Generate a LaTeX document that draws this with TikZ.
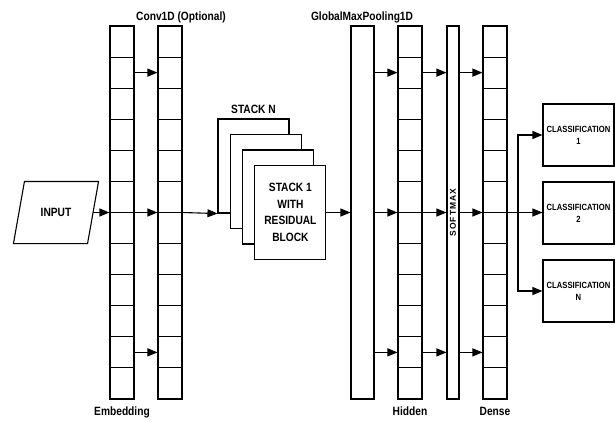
\documentclass[tikz,border=0pt]{standalone}
\usepackage{fontspec}
\setmainfont{Liberation Sans}[FakeStretch=0.85]
\newfontfamily\smaxfont{Liberation Sans}[LetterSpace=12]
\usetikzlibrary{arrows.meta,positioning}

% one column of 12 cells: name, x centre
\newcommand\cellcol[2]{%
  \node[colbox] (#1) at (#2,212.5) {};
  \foreach \i in {1,...,12}
    \node[cell] (#1\i) at (#2,{26+31.083*(\i-0.5)}) {};
}

\begin{document}
\begin{tikzpicture}[x=1pt,y=-1pt,line width=1.1pt,>={Triangle[length=10pt,width=8pt]},
  font=\bfseries\fontsize{12}{14}\selectfont,
  cell/.style={draw,inner sep=0pt,minimum width=24pt,minimum height=31.083pt},
  colbox/.style={draw,inner sep=0pt,minimum width=24pt,minimum height=373pt},
  stk/.style={draw,fill=white,inner sep=1pt,minimum width=71pt,minimum height=94pt,
    align=center,font=\bfseries\fontsize{12}{16.5}\selectfont},
  cls/.style={draw,inner sep=1pt,minimum width=71pt,minimum height=62pt,
    align=center,font=\bfseries\fontsize{9}{12}\selectfont},
  lbl/.style={inner sep=0pt}]
  \useasboundingbox (0,0) rectangle (615,421);
  % input
  \node[inner sep=0pt,minimum width=84pt,minimum height=61pt] (input) at (56,212.5) {INPUT};
  \draw (input.south west)--([xshift=-11pt]input.south east)--(input.north east)
    --([xshift=11pt]input.north west)--cycle;
  % columns
  \cellcol{emb}{122}
  \cellcol{conv}{170}
  \node[colbox,minimum width=23pt] (gmp) at (362.5,212.5) {};
  \cellcol{hid}{410}
  \node[colbox,minimum width=12pt] (smax) at (453,212.5) {};
  \node[rotate=90,inner sep=0pt,font=\smaxfont\bfseries\fontsize{8.5}{10}\selectfont] (smaxlbl) at (smax) {SOFTMAX};
  \cellcol{dns}{495}
  % stacks
  \node[stk] (sN) at (253.5,166) {};
  \node[stk] (s3) at ([shift={(12.3,15.5)}]sN) {};
  \node[stk] (s2) at ([shift={(12.3,15.5)}]s3) {};
  \node[stk] (s1) at ([shift={(12.3,15.5)}]s2) {STACK 1\\WITH\\RESIDUAL\\BLOCK};
  \node[lbl,above=4pt of sN] (stklbl) {STACK N};
  % outputs
  \node[cls] (c1) at (578.5,135) {CLASSIFICATION\\1};
  \node[cls] (c2) at (578.5,213) {CLASSIFICATION\\2};
  \node[cls] (cN) at (578.5,291) {CLASSIFICATION\\N};
  \coordinate (fork) at (518,212.5);
  % labels
  \node[lbl] (convlbl) at (181,17) {Conv1D (Optional)};
  \node[lbl] (gmplbl) at (362,17) {GlobalMaxPooling1D};
  \node[lbl,below=7pt of emb] (emblbl) {Embedding};
  \node[lbl,below=7pt of hid] (hidlbl) {Hidden};
  \node[lbl,below=7pt of dns] (dnslbl) {Dense};
  % arrows
  \draw[->]([xshift=-5.5pt]input.east)--(emb.west);\draw[->](emb.west)--(conv.west);
  \draw[->](conv.east)--(sN.south west);\draw[->](s1.east)--(gmp.west);
  \draw[->](gmp.east)--(hid.west);\draw[->](hid.east)--(smax.west);
  \draw[->](smax.east)--(dns.west);
  \foreach \r in {2,11}{
    \draw[->](emb\r.east)--(conv\r.west);
    \draw[->](gmp.east |- hid\r)--(hid\r.west);
    \draw[->](hid\r.east)--(smax.west |- hid\r);
    \draw[->](smax.east |- dns\r)--(dns\r.west);
  }
  \draw(dns.east)--(fork);
  \draw[->](fork)|-(c1.west);\draw[->](fork)--(c2.west |- fork);
  \draw[->](fork)|-(cN.west);
\end{tikzpicture}
\end{document}
